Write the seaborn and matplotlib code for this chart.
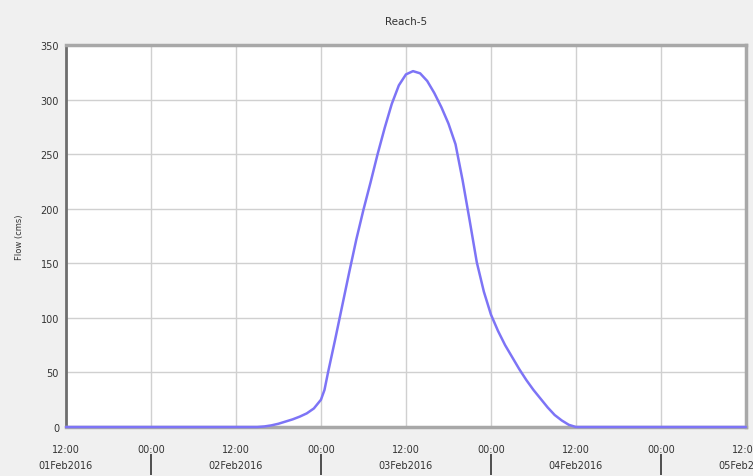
import pandas as pd
import matplotlib.pyplot as plt
import matplotlib.dates as mdates
import seaborn as sns

# hours after 01Feb2016 12:00 and flow (cms)
hours = [0, 27, 28, 29, 30, 31, 32, 33, 34, 35, 36, 36.5, 37, 38, 39, 40, 41, 42, 43,
         44, 45, 46, 47, 48, 49, 50, 51, 52, 53, 54, 55, 56, 57, 58, 59, 60, 61, 62,
         63, 64, 65, 66, 67, 68, 69, 70, 71, 72, 96]
flow = [0, 0, 0.5, 1.5, 3, 5, 7, 9.5, 12.5, 17, 25, 34, 50, 80, 111, 142, 172, 199, 224,
        250, 274, 296, 313, 323, 326, 324, 317, 306, 293, 278, 259, 226, 189, 151, 124, 103, 88, 75,
        64, 53, 43, 34, 26, 18, 11, 6, 2, 0, 0]
date_labels = ['01Feb2016', '02Feb2016', '03Feb2016', '04Feb2016', '05Feb2016']

start = pd.Timestamp('2016-02-01 12:00')
df = pd.DataFrame({'time': [start + pd.Timedelta(hours=h) for h in hours], 'flow': flow})

sns.set_style('white')
plt.rcParams['font.family'] = ['DejaVu Sans']

fig = plt.figure(figsize=(7.53, 4.77), dpi=100, facecolor='#f0f0f0')
ax = fig.add_axes([0.0876, 0.1027, 0.903, 0.801])
ax.set_facecolor('white')

sns.lineplot(data=df, x='time', y='flow', ax=ax, color='#7d74f6', linewidth=1.8,
             zorder=5, clip_on=False)

ax.set_xlim(start, start + pd.Timedelta(hours=96))
ax.set_ylim(0, 350)
ax.set_yticks(range(0, 351, 50))
ax.xaxis.set_major_locator(mdates.HourLocator(byhour=[0, 12]))
ax.xaxis.set_major_formatter(mdates.DateFormatter('%H:%M'))
ax.grid(True, color='#d0d0d0', linewidth=1)
ax.tick_params(axis='both', labelsize=7, colors='#333333', length=3, width=1, direction='out')
ax.tick_params(axis='x', pad=9)
ax.tick_params(axis='y', pad=2)

for side in ['top', 'bottom', 'right']:
    ax.spines[side].set_color('#a8a8a8')
    ax.spines[side].set_linewidth(2.5)
ax.spines['left'].set_color('#6e6e6e')
ax.spines['left'].set_linewidth(2)

ax.set_xlabel('')
ax.set_ylabel('Flow (cms)', fontsize=6, color='#333333', labelpad=12)
ax.set_title('Reach-5', fontsize=7.5, color='#333333', pad=15)

# second row: dates centred on 12:00, separators at 00:00
sec = ax.secondary_xaxis(-0.126)
sec.spines['bottom'].set_visible(False)
noon = [start + pd.Timedelta(days=i) for i in range(len(date_labels))]
midnight = [start + pd.Timedelta(hours=12 + 24 * i) for i in range(4)]
sec.set_xticks(midnight)
sec.set_xticklabels([''] * len(midnight))
sec.tick_params(axis='x', which='major', length=15, width=1.2, color='#333333', direction='in')
sec.set_xticks(noon, minor=True)
sec.set_xticklabels(date_labels, minor=True)
sec.tick_params(axis='x', which='minor', length=0, labelsize=7, colors='#333333', pad=-11)

fig.savefig('out.png', dpi=100, facecolor=fig.get_facecolor())
